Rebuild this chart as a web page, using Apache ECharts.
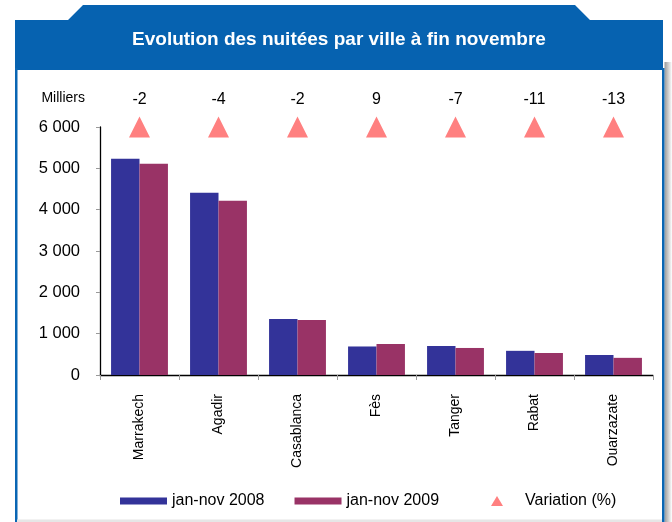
<!DOCTYPE html>
<html>
<head>
<meta charset="utf-8">
<script src="https://cdn.jsdelivr.net/npm/echarts@6/dist/echarts.min.js"></script>
<style>
html,body{margin:0;padding:0;background:#fff;}
#chart{width:672px;height:522px;}
</style>
</head>
<body>
<div id="chart"></div>
<script>
const titleText = 'Evolution des nuitées par ville à fin novembre';
const cities = ['Marrakech', 'Agadir', 'Casablanca', 'Fès', 'Tanger', 'Rabat', 'Ouarzazate'];
const nuitees2008 = [5230, 4410, 1356, 690, 702, 585, 484];
const nuitees2009 = [5110, 4215, 1332, 750, 654, 533, 415];
const variation = [-2, -4, -2, 9, -7, -11, -13];
const seriesNames = ['jan-nov 2008', 'jan-nov 2009', 'Variation (%)'];
const yTicks = [0, 1000, 2000, 3000, 4000, 5000, 6000];
const unitLabel = 'Milliers';

const yMax = yTicks[yTicks.length - 1];
const font = '"Liberation Sans", Arial, sans-serif';
const fmt = v => String(v).replace(/\B(?=(\d{3})+(?!\d))/g, ' ');

const chart = echarts.init(document.getElementById('chart'), null, {renderer: 'canvas'});
chart.setOption({
  animation: false,
  backgroundColor: '#ffffff',
  textStyle: {fontFamily: font},
  graphic: [
    {type: 'polygon', z: -10, silent: true,
     shape: {points: [[15, 70], [15, 20], [68, 20], [83, 5], [575, 5], [590, 20], [663, 20], [663, 70]]},
     style: {fill: '#0662B0'}},
    {type: 'rect', z: -10, silent: true, shape: {x: 15, y: 68, width: 2.5, height: 454}, style: {fill: '#0A66B4'}},
    {type: 'rect', z: -10, silent: true, shape: {x: 662, y: 68, width: 2.5, height: 454}, style: {fill: '#0A66B4'}},
    {type: 'rect', z: -11, silent: true, shape: {x: 664.5, y: 62, width: 7.5, height: 460},
     style: {fill: new echarts.graphic.LinearGradient(0, 0, 1, 0, [{offset: 0, color: '#9a9a9a'}, {offset: 1, color: '#ffffff'}])}},
    {type: 'rect', z: -10, silent: true, shape: {x: 17, y: 519.5, width: 645, height: 2.5}, style: {fill: '#e6e6e6'}},
    {type: 'text', z: 10, silent: true, x: 339, y: 40,
     style: {text: titleText, fill: '#ffffff', font: 'bold 19px ' + font, textAlign: 'center', textVerticalAlign: 'middle'}}
  ],
  legend: [
    {data: seriesNames.slice(0, 2), left: 120, top: 493, padding: 0, icon: 'rect',
     itemWidth: 47, itemHeight: 7, itemGap: 30,
     textStyle: {fontSize: 16, color: '#000', fontFamily: font}},
    {data: [seriesNames[2]], left: 491, top: 493, padding: 0, icon: 'triangle',
     itemWidth: 12, itemHeight: 10, itemStyle: {opacity: 1},
     textStyle: {fontSize: 16, color: '#000', fontFamily: font, padding: [0, 0, 0, 17]}}
  ],
  grid: {left: 100, right: 19, top: 127, bottom: 147, containLabel: false},
  xAxis: {
    type: 'category',
    data: cities,
    axisLine: {lineStyle: {color: '#000', width: 1.3}},
    axisTick: {show: true, length: 5, lineStyle: {color: '#999'}},
    axisLabel: {rotate: 90, margin: 19, fontSize: 14, color: '#000', fontFamily: font}
  },
  yAxis: {
    type: 'value',
    min: 0, max: yMax, interval: 1000,
    name: unitLabel,
    nameLocation: 'end',
    nameGap: 22,
    nameTextStyle: {fontSize: 14, color: '#000', align: 'right', padding: [0, 15, 0, 0], fontFamily: font},
    axisLine: {show: true, lineStyle: {color: '#000', width: 1.3}},
    axisTick: {show: true, length: 4, lineStyle: {color: '#999'}},
    axisLabel: {margin: 20, fontSize: 16.5, color: '#000', formatter: fmt, fontFamily: font},
    splitLine: {show: false}
  },
  series: [
    {name: seriesNames[0], type: 'bar', data: nuitees2008, barGap: '0%', barCategoryGap: '28%',
     itemStyle: {color: '#333399'}},
    {name: seriesNames[1], type: 'bar', data: nuitees2009, barGap: '0%', barCategoryGap: '28%',
     itemStyle: {color: '#993366'}},
    {name: seriesNames[2], type: 'scatter', symbol: 'triangle', symbolSize: 21, clip: false,
     itemStyle: {color: '#FF8080', opacity: 1},
     data: variation.map((v, i) => ({value: [i, yMax], variation: v})),
     label: {show: true, position: 'top', distance: 9, fontSize: 16, color: '#000', fontFamily: font,
             formatter: p => String(p.data.variation)}}
  ]
});
</script>
</body>
</html>
